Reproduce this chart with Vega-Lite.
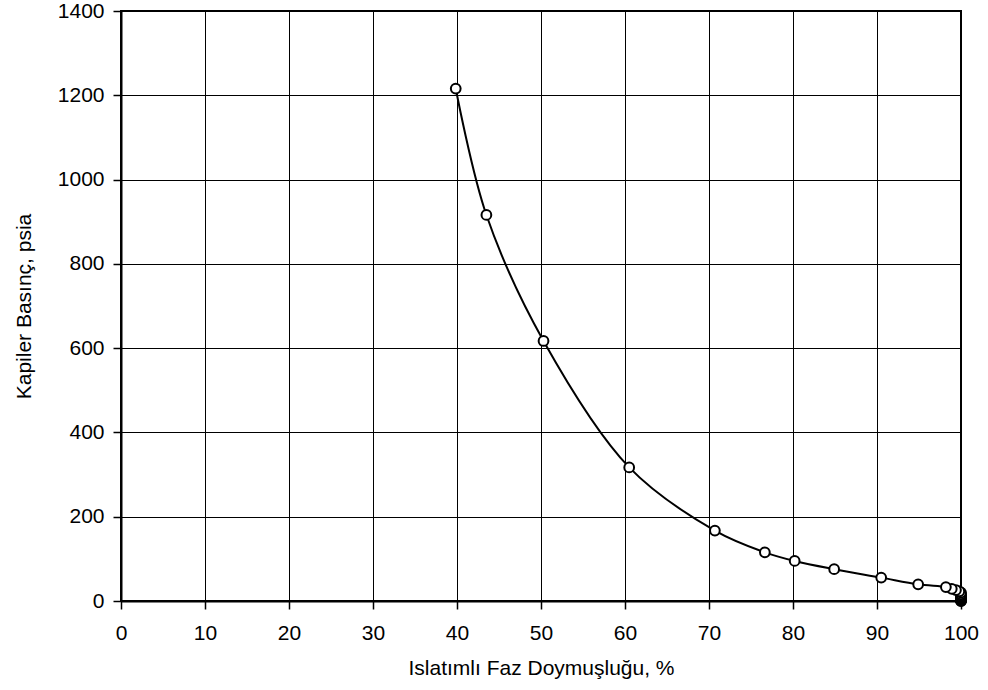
{
  "$schema": "https://vega.github.io/schema/vega-lite/v6.json",
  "width": 840,
  "height": 590,
  "autosize": {"type": "none"},
  "padding": {"left": 121, "top": 11, "right": 27, "bottom": 89},
  "background": "white",
  "config": {
    "font": "Liberation Sans",
    "view": {"stroke": "#000", "strokeWidth": 2},
    "axis": {
      "labelFont": "Liberation Sans",
      "titleFont": "Liberation Sans",
      "labelFontSize": 21,
      "titleFontSize": 21,
      "titleFontWeight": "normal",
      "labelColor": "#000",
      "titleColor": "#000",
      "domainColor": "#000",
      "domainWidth": 2,
      "tickColor": "#000",
      "tickWidth": 1.5,
      "tickSize": 8,
      "gridColor": "#000",
      "gridWidth": 1,
      "gridOpacity": 1
    }
  },
  "data": {
    "values": [
      {"i": 30, "s": 100, "p": 0},
      {"i": 29, "s": 100, "p": 0.5},
      {"i": 28, "s": 100, "p": 1},
      {"i": 27, "s": 100, "p": 2},
      {"i": 26, "s": 100, "p": 3},
      {"i": 25, "s": 100, "p": 4},
      {"i": 24, "s": 100, "p": 5},
      {"i": 23, "s": 100, "p": 6},
      {"i": 22, "s": 100, "p": 8},
      {"i": 21, "s": 100, "p": 10},
      {"i": 20, "s": 100, "p": 13},
      {"i": 19, "s": 100, "p": 16},
      {"i": 18, "s": 100, "p": 20},
      {"i": 17, "s": 99.8, "p": 23},
      {"i": 16, "s": 99.4, "p": 26},
      {"i": 15, "s": 98.9, "p": 29},
      {"i": 14, "s": 98.2, "p": 33},
      {"i": 10, "s": 94.9, "p": 39.5},
      {"i": 9, "s": 90.5, "p": 55.5},
      {"i": 8, "s": 84.9, "p": 75.5},
      {"i": 7, "s": 80.2, "p": 95},
      {"i": 6, "s": 76.65, "p": 115.5},
      {"i": 5, "s": 70.7, "p": 167},
      {"i": 4, "s": 60.5, "p": 317},
      {"i": 3, "s": 50.3, "p": 617},
      {"i": 2, "s": 43.5, "p": 916},
      {"i": 1, "s": 39.85, "p": 1216}
    ]
  },
  "encoding": {
    "x": {
      "field": "s",
      "type": "quantitative",
      "scale": {"domain": [0, 100], "nice": false, "zero": false},
      "axis": {
        "title": "Islatımlı Faz Doymuşluğu, %",
        "values": [0, 10, 20, 30, 40, 50, 60, 70, 80, 90, 100],
        "format": "d",
        "labelPadding": 13,
        "titlePadding": 14,
        "labelFlush": false,
        "labelOverlap": false,
        "grid": true
      }
    },
    "y": {
      "field": "p",
      "type": "quantitative",
      "scale": {"domain": [0, 1400], "nice": false},
      "axis": {
        "title": "Kapiler Basınç, psia",
        "values": [0, 200, 400, 600, 800, 1000, 1200, 1400],
        "format": "d",
        "labelPadding": 9,
        "titlePadding": 23,
        "labelFlush": false,
        "labelOverlap": false,
        "grid": true
      }
    }
  },
  "layer": [
    {
      "mark": {"type": "line", "interpolate": "catmull-rom", "color": "#000", "strokeWidth": 2},
      "encoding": {"order": {"field": "i", "type": "quantitative"}}
    },
    {
      "mark": {"type": "point", "shape": "circle", "filled": false, "fill": "white", "fillOpacity": 1, "stroke": "#000", "strokeWidth": 2, "size": 95, "opacity": 1}
    }
  ]
}
